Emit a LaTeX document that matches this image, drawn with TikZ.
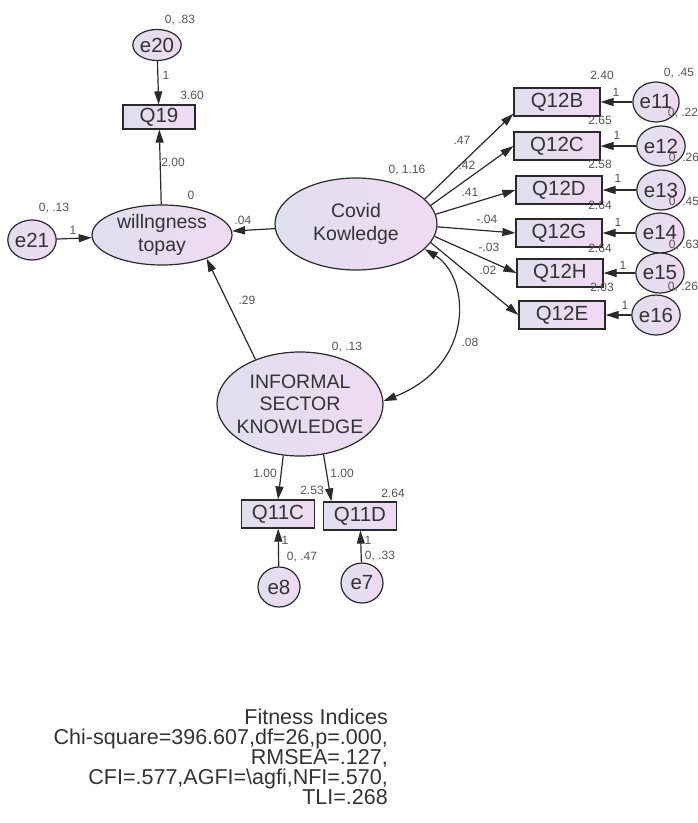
\documentclass[tikz,border=0pt]{standalone}
\usepackage{fontspec}
\setmainfont{Liberation Sans}
\usetikzlibrary{arrows.meta,shapes.geometric,calc}
\definecolor{linec}{HTML}{2A2A2A}
\definecolor{txtc}{HTML}{333333}
\definecolor{lblc}{HTML}{555555}
\definecolor{fillL}{HTML}{E0DFEE}
\definecolor{fillR}{HTML}{F0DAF3}
\begin{document}
\begin{tikzpicture}[x=1pt,y=-1pt,
  every node/.style={font=\fontsize{19.5}{23}\selectfont, text=txtc},
  latent/.style={ellipse, draw=linec, line width=1.2pt, left color=fillL, right color=fillR,
    inner sep=0pt, align=center},
  obs/.style={rectangle, draw=linec, line width=1.2pt, left color=fillL, right color=fillR,
    inner sep=0pt, minimum height=28pt, font=\fontsize{20.5}{23}\selectfont},
  err/.style={ellipse, draw=linec, line width=1.2pt, left color=fillL, right color=fillR,
    inner sep=0pt, minimum width=42pt, minimum height=40pt, font=\fontsize{20.5}{23}\selectfont},
  lbl/.style={font=\fontsize{12}{13}\selectfont, text=lblc, inner sep=0pt},
  reg/.style={draw=linec, line width=1.2pt, -{Triangle[length=13pt,width=8pt]}},
  cov/.style={draw=linec, line width=1.2pt, {Triangle[length=13pt,width=8pt]}-{Triangle[length=13pt,width=8pt]}}
]
\fill[white] (0,0) rectangle (698,823);
\useasboundingbox (0,0) rectangle (698,823);

% latent variables
\node[latent, minimum width=140pt, minimum height=60pt] (wil) at (162,235) {willngness\\topay};
\node[latent, minimum width=162pt, minimum height=92pt] (cov) at (356,224) {Covid\\Kowledge};
\node[latent, minimum width=166pt, minimum height=104pt, inner xsep=-5pt,
  font=\fontsize{19.5}{22.5}\selectfont] (inf) at (300,404) {INFORMAL\\SECTOR\\KNOWLEDGE};

% observed variables
\node[obs, minimum width=72pt, minimum height=24pt] (q19) at (159,117) {Q19};
\node[obs, minimum width=86pt] (q12b) at (557,102) {Q12B};
\node[obs, minimum width=86pt] (q12c) at (557,146) {Q12C};
\node[obs, minimum width=86pt] (q12d) at (559,190) {Q12D};
\node[obs, minimum width=86pt] (q12g) at (559,233) {Q12G};
\node[obs, minimum width=86pt] (q12h) at (560,273) {Q12H};
\node[obs, minimum width=86pt] (q12e) at (562,315) {Q12E};
\node[obs, minimum width=73pt] (q11c) at (278,514) {Q11C};
\node[obs, minimum width=73pt] (q11d) at (360,516) {Q11D};

% error terms
\node[err, minimum width=38pt, minimum height=31pt] (e20) at (157,45) {e20};
\node[err] (e21) at (32,240) {e21};
\node[err] (e11) at (656,102) {e11};
\node[err] (e12) at (661,146) {e12};
\node[err] (e13) at (661,190) {e13};
\node[err] (e14) at (660,233) {e14};
\node[err] (e15) at (660,273) {e15};
\node[err] (e16) at (656,315) {e16};
\node[err] (e8) at (279,587) {e8};
\node[err] (e7) at (362,583) {e7};

% regression paths
\draw[reg] (e20) -- (q19);
\draw[reg] (wil) -- (q19);
\draw[reg] (e21) -- (wil);
\draw[reg] (cov) -- (wil);
\draw[reg] (inf.135) -- (wil.-28);
\draw[reg] (cov.20) -- (q12b.195);
\draw[reg] (cov.14) -- (q12c.west);
\draw[reg] (cov.7) -- (q12d.west);
\draw[reg] (cov.-2) -- (q12g.west);
\draw[reg] (cov.-9) -- (q12h.west);
\draw[reg] (cov.-14) -- (q12e.west);
\draw[reg] (e11) -- (q12b);
\draw[reg] (e12) -- (q12c);
\draw[reg] (e13) -- (q12d);
\draw[reg] (e14) -- (q12g);
\draw[reg] (e15) -- (q12h);
\draw[reg] (e16) -- (q12e);
\draw[reg] (inf.-108) -- (q11c.north);
\draw[reg] (inf.-65) -- (q11d.153);
\draw[reg] (e8) -- (q11c);
\draw[reg] (e7) -- (q11d);

% covariance
\draw[cov] (cov.-20) .. controls +(45,28) and +(93,-37) .. (inf.2);

% estimates
\node[lbl] (v20) at (180,20) {0, .83};
\node[lbl] (w20) at (166,75) {1};
\node[lbl] (i19) at (192,95) {3.60};
\node[lbl] (b19) at (173,162) {2.00};
\node[lbl] (iwil) at (191,195) {0};
\node[lbl] (v21) at (54,208) {0, .13};
\node[lbl] (w21) at (73,230) {1};
\node[lbl] (bcw) at (243,220) {.04};
\node[lbl] (vcov) at (407,170) {0, 1.16};
\node[lbl] (bb) at (462,140) {.47};
\node[lbl] (bc) at (467,165) {.42};
\node[lbl] (bd) at (470,192) {.41};
\node[lbl] (bg) at (487,219) {-.04};
\node[lbl] (bh) at (489,247) {-.03};
\node[lbl] (be) at (488,270) {.02};
\node[lbl] (ib) at (602,75) {2.40};
\node[lbl] (ic) at (600,120) {2.65};
\node[lbl] (id) at (600,164) {2.58};
\node[lbl] (ig) at (600,205) {2.64};
\node[lbl] (ih) at (600,248) {2.64};
\node[lbl] (ie) at (602,287) {2.03};
\node[lbl] (w11) at (616,92) {1};
\node[lbl] (w12) at (617,135) {1};
\node[lbl] (w13) at (618,178) {1};
\node[lbl] (w14) at (618,222) {1};
\node[lbl] (w15) at (623,265) {1};
\node[lbl] (w16) at (625,305) {1};
\node[lbl] (v11) at (679,73) {0, .45};
\node[lbl] (v12) at (683,113) {0, .22};
\node[lbl] (v13) at (684,158) {0, .26};
\node[lbl] (v14) at (684,202) {0, .45};
\node[lbl] (v15) at (684,245) {0, .63};
\node[lbl] (v16) at (683,287) {0, .26};
\node[lbl] (vinf) at (347,347) {0, .13};
\node[lbl] (biw) at (247,300) {.29};
\node[lbl] (ccov) at (470,342) {.08};
\node[lbl] (b11c) at (265,473) {1.00};
\node[lbl] (b11d) at (342,473) {1.00};
\node[lbl] (i11c) at (312,490) {2.53};
\node[lbl] (i11d) at (393,493) {2.64};
\node[lbl] (w8) at (285,540) {1};
\node[lbl] (w7) at (368,540) {1};
\node[lbl] (v8) at (302,557) {0, .47};
\node[lbl] (v7) at (380,556) {0, .33};

% fit summary
\node[anchor=north east, align=right, inner sep=0pt, text=txtc,
  font=\fontsize{21.5}{20}\selectfont] (fit) at (388,709)
  {Fitness Indices\\Chi-square=396.607,df=26,p=.000,\\RMSEA=.127,\\CFI=.577,AGFI=\textbackslash agfi,NFI=.570,\\TLI=.268};
\end{tikzpicture}
\end{document}
